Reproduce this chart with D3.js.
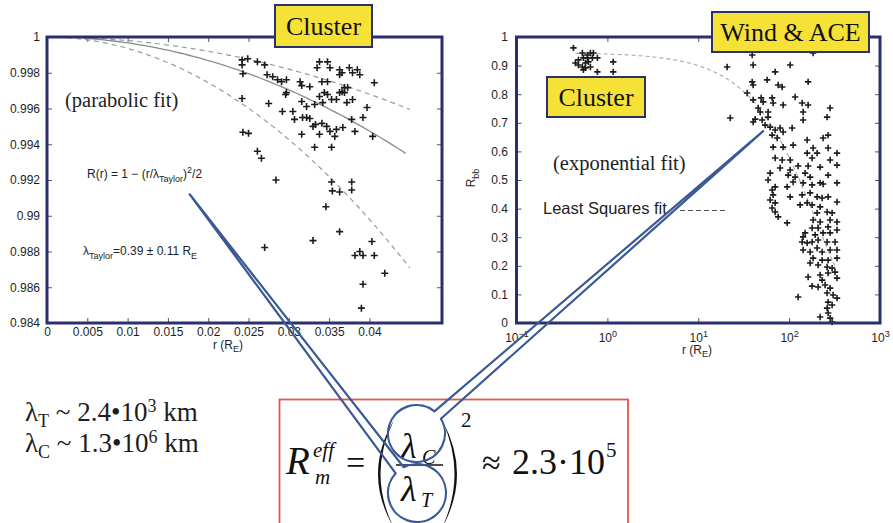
<!DOCTYPE html>
<html>
<head>
<meta charset="utf-8">
<script src="https://cdn.jsdelivr.net/npm/d3@7"></script>
<style>
  html, body { margin: 0; padding: 0; background: #fff; }
  svg { display: block; }
</style>
</head>
<body>
<svg id="fig" width="893" height="523"></svg>
<script>
// ---------- Left panel: Cluster correlation vs separation (parabolic fit) ----------
const leftXTicks = [0, 0.005, 0.01, 0.015, 0.02, 0.025, 0.03, 0.035, 0.04];
const leftXLabels = ["0", "0.005", "0.01", "0.015", "0.02", "0.025", "0.03", "0.035", "0.04"];
const leftYTicks = [0.984, 0.986, 0.988, 0.99, 0.992, 0.994, 0.996, 0.998, 1];
const leftYLabels = ["0.984", "0.986", "0.988", "0.99", "0.992", "0.994", "0.996", "0.998", "1"];

// [r (R_E), R]
const taylorPoints = [
  [0.0242,0.99872],[0.0242,0.99844],[0.0249,0.99878],[0.0261,0.99861],[0.0270,0.99844],
  [0.0243,0.99794],[0.0273,0.99789],[0.0280,0.99778],[0.0286,0.99761],[0.0291,0.99750],
  [0.0297,0.99761],[0.0314,0.99750],[0.0316,0.99728],[0.0326,0.99722],[0.0338,0.99861],
  [0.0348,0.99861],[0.0351,0.99828],[0.0348,0.99750],[0.0363,0.99817],[0.0363,0.99789],
  [0.0375,0.99828],[0.0385,0.99817],[0.0388,0.99789],[0.0406,0.99744],[0.0335,0.99828],
  [0.0366,0.99800],[0.0379,0.99800],[0.0341,0.99750],[0.0373,0.99717],[0.0363,0.99689],
  [0.0369,0.99689],[0.0344,0.99689],[0.0297,0.99689],
  [0.0242,0.99656],[0.0275,0.99628],[0.0296,0.99678],[0.0305,0.99583],[0.0307,0.99539],
  [0.0316,0.99639],[0.0322,0.99611],[0.0322,0.99550],[0.0330,0.99500],[0.0332,0.99622],
  [0.0338,0.99667],[0.0342,0.99633],[0.0348,0.99678],[0.0353,0.99650],[0.0359,0.99650],
  [0.0366,0.99694],[0.0369,0.99717],[0.0372,0.99633],[0.0379,0.99650],[0.0397,0.99606],
  [0.0333,0.99511],[0.0341,0.99517],[0.0351,0.99472],[0.0359,0.99483],[0.0367,0.99494],
  [0.0378,0.99539],[0.0392,0.99550],[0.0404,0.99444],[0.0382,0.99472],[0.0357,0.99444],
  [0.0316,0.99456],[0.0332,0.99383],[0.0353,0.99383],[0.0243,0.99467],[0.0250,0.99461],
  [0.0261,0.99361],[0.0266,0.99322],[0.0292,0.99583],[0.0317,0.99550],[0.0326,0.99544],
  [0.0347,0.99500],[0.0338,0.99456],
  [0.0284,0.99200],[0.0353,0.99189],[0.0354,0.99139],[0.0363,0.99133],[0.0378,0.99189],
  [0.0378,0.99144],[0.0346,0.99050],[0.0363,0.98911],[0.0270,0.98822],[0.0330,0.98861],
  [0.0388,0.98800],[0.0382,0.98778],[0.0392,0.98778],[0.0403,0.98856],[0.0406,0.98778],
  [0.0419,0.98678],[0.0392,0.98617],[0.0390,0.98483]
];

// Taylor scale fit: R(r) = 1 - (r/lambda)^2/2, lambda = 0.39 +/- 0.11 R_E
const lambdaTaylor = 0.39;
const lambdaTaylorErr = 0.11;

// ---------- Right panel: Cluster + Wind & ACE (exponential fit) ----------
const rightXTicks = [0.1, 1, 10, 100, 1000];
const rightXExponents = ["\u22121", "0", "1", "2", "3"];
const rightYTicks = [0, 0.1, 0.2, 0.3, 0.4, 0.5, 0.6, 0.7, 0.8, 0.9, 1];
const rightYLabels = ["0", "0.1", "0.2", "0.3", "0.4", "0.5", "0.6", "0.7", "0.8", "0.9", "1"];

// [r (R_E), R_bb]
const clusterPoints = [
  [0.423,0.962],[0.445,0.909],[0.480,0.920],[0.531,0.944],[0.545,0.927],[0.573,0.909],
  [0.603,0.937],[0.618,0.913],[0.650,0.895],[0.531,0.895],[0.573,0.892],[0.684,0.927],
  [0.702,0.944],[0.776,0.927],[0.776,0.878],[1.16,0.913],[1.16,0.878],[0.545,0.885],
  [0.480,0.902],[0.603,0.927],[0.650,0.944]
];

const windAcePoints = [
  [20.8,0.895],[22.5,0.717],[39.2,0.937],[40.2,0.902],[102.6,0.902],[183.6,0.944],
  [39.2,0.843],[40.2,0.832],[57.3,0.850],[75.7,0.832],[70.2,0.878],[83.8,0.825],
  [161.8,0.843],[34.5,0.804],[49.2,0.787],[51.8,0.773],[65.0,0.787],[66.7,0.769],
  [85.9,0.762],[116.4,0.790],[139,0.769],[161.8,0.762],[282.5,0.752],[45.6,0.752],
  [48.0,0.738],[58.7,0.738],[42.3,0.713],[40.2,0.703],[50.5,0.710],[58.7,0.720],
  [142.6,0.738],[142.6,0.710],[261.8,0.720],[54.5,0.692],[61.8,0.685],[70.2,0.675],
  [79.6,0.682],[85.9,0.668],[65.0,0.657],[73.8,0.647],[107.9,0.682],[157.8,0.640],
  [236.6,0.647],[268.5,0.657],[66.7,0.615],[85.9,0.615],[110.7,0.622],[183.6,0.612],
  [157.8,0.594],[203.2,0.594],[268.5,0.612],[336.5,0.594],[70.2,0.577],[83.8,0.570],
  [102.6,0.570],[179,0.577],[282.5,0.570],[125.6,0.549],[161.8,0.549],[219.3,0.545],
  [336.5,0.552],[79.6,0.542],[61.8,0.524],[97.5,0.517],[116.4,0.510],[150,0.524],
  [170.2,0.510],[268.5,0.517],[336.5,0.490],[110.7,0.493],[142.6,0.490],[179,0.483],
  [236.6,0.486],[70.2,0.476],[95.1,0.476],[58.7,0.500],[65.0,0.465],[66.7,0.448],
  [61.8,0.430],[102.6,0.441],[219.3,0.490],[139,0.448],[170.2,0.455],[203.2,0.441],
  [230.7,0.437],[268.5,0.441],[336.5,0.423],[132.1,0.413],[157.8,0.420],[179,0.413],
  [219.3,0.406],[65.0,0.402],[70.2,0.388],[75.7,0.371],[95.1,0.350],[203.2,0.385],
  [261.8,0.388],[297.2,0.385],[282.5,0.360],[336.5,0.353],[183.6,0.360],[219.3,0.353],
  [179,0.332],[208.4,0.332],[268.5,0.336],[336.5,0.325],[150,0.315],[142.6,0.301],
  [193.2,0.308],[236.6,0.315],[282.5,0.315],[139,0.283],[157.8,0.280],[179,0.283],
  [208.4,0.290],[261.8,0.283],[320,0.283],[142.6,0.255],[170.2,0.248],[203.2,0.262],
  [230.7,0.248],[282.5,0.255],[336.5,0.255],[183.6,0.227],[230.7,0.220],[268.5,0.220],
  [336.5,0.227],[170.2,0.210],[208.4,0.203],[261.8,0.196],[297.2,0.192],[161.8,0.161],
  [219.3,0.168],[268.5,0.175],[320,0.178],[230.7,0.150],[336.5,0.157],[179,0.129],
  [208.4,0.126],[248.9,0.133],[282.5,0.122],[261.8,0.105],[304.8,0.098],[336.5,0.087],
  [125.6,0.091],[268.5,0.073],[297.2,0.063],[261.8,0.052],[268.5,0.035],[219.3,0.021],
  [282.5,0.017],[297.2,0.003],[40.2,0.780],[70.2,0.420],[102.6,0.535]
];

// Exponential fit: R = A exp(-r / lambda_C), lambda_C = 1.3e6 km
const earthRadiusKm = 6371;
const lambdaCorrKm = 1.3e6;
const expAmplitude = 0.945;

// ---------- Colours ----------
const NAVY = "#2a2f72";
const BLUE = "#3a5995";
const YELLOW = "#f6e236";
const RED = "#e2594b";
const INK = "#1e1e1e";
const SANS = "'Liberation Sans', Arial, sans-serif";
const SERIF = "'Liberation Serif', 'Times New Roman', serif";

const svg = d3.select("#fig");

// ---------- Scales ----------
const xL = d3.scaleLinear().domain([0, 0.049]).range([47, 442]);
const yL = d3.scaleLinear().domain([0.984, 1]).range([323, 37]);
const xR = d3.scaleLog().domain([0.1, 1000]).range([516.5, 880]);
const yR = d3.scaleLinear().domain([0, 1]).range([323, 37]);

// Matlab-style box axes: inward ticks on all four sides, labels bottom/left
function boxAxes(g, x, y, xTicks, xFmt, xPad, yTicks, yFmt, yPad) {
  const [xa, xb] = x.range();
  const [yb, ya] = y.range();
  g.append("g").attr("transform", `translate(0,${yb})`)
    .call(d3.axisBottom(x).tickValues(xTicks).tickSize(-5).tickPadding(xPad).tickFormat(xFmt))
    .attr("class", "ax-bottom");
  g.append("g").attr("transform", `translate(0,${ya})`)
    .call(d3.axisTop(x).tickValues(xTicks).tickSize(-5).tickFormat(""));
  g.append("g").attr("transform", `translate(${xa},0)`)
    .call(d3.axisLeft(y).tickValues(yTicks).tickSize(-5).tickPadding(yPad).tickFormat(yFmt));
  g.append("g").attr("transform", `translate(${xb},0)`)
    .call(d3.axisRight(y).tickValues(yTicks).tickSize(-5).tickFormat(""));
  g.selectAll(".domain").remove();
  g.selectAll(".tick line").attr("stroke", "#555").attr("stroke-width", 1);
  g.selectAll("text").attr("font-family", SANS).attr("font-size", 12).attr("fill", INK);
  g.selectAll("g").attr("font-family", null).attr("font-size", null);
}

function plusMarks(g, pts, x, y, size) {
  g.selectAll("path.pt").data(pts).join("path")
    .attr("class", "pt")
    .attr("transform", d => `translate(${x(d[0])},${y(d[1])})`)
    .attr("d", `M${-size},0H${size}M0,${-size}V${size}`)
    .attr("stroke", "#1c1c1c").attr("stroke-width", 1.6).attr("fill", "none");
}

// text with mixed sub/superscripts: parts = [[text, kind]] kind: "n", "sub", "sup"
function richText(g, x, y, parts, opts) {
  const t = g.append("text").attr("x", x).attr("y", y)
    .attr("font-family", opts.family).attr("font-size", opts.size)
    .attr("fill", opts.fill || INK);
  if (opts.anchor) t.attr("text-anchor", opts.anchor);
  if (opts.style) t.attr("font-style", opts.style);
  if (opts.transform) t.attr("transform", opts.transform);
  let shift = 0;
  parts.forEach(([s, kind]) => {
    let target = 0;
    if (kind === "sub") target = opts.subDy || opts.size * 0.35;
    if (kind === "sup") target = -(opts.supDy || opts.size * 0.45);
    const sp = t.append("tspan").attr("dy", target - shift).text(s);
    if (kind !== "n") sp.attr("font-size", opts.scriptSize || opts.size * 0.72);
    shift = target;
  });
  return t;
}

function labelBox(g, x0, y0, w, h, label, baseline) {
  g.append("rect").attr("x", x0).attr("y", y0).attr("width", w).attr("height", h)
    .attr("fill", YELLOW).attr("stroke", NAVY).attr("stroke-width", 2);
  g.append("text").attr("x", x0 + w / 2).attr("y", baseline).attr("text-anchor", "middle")
    .attr("font-family", SERIF).attr("font-size", 26).attr("fill", "#111").text(label);
}

// ================= Left panel =================
const gL = svg.append("g");
boxAxes(gL, xL, yL, leftXTicks, (d, i) => leftXLabels[i], 4, leftYTicks, (d, i) => leftYLabels[i], 7);

const parab = lam => r => 1 - Math.pow(r / lam, 2) / 2;
const lineL = f => d3.line().x(r => xL(r)).y(r => yL(f(r)));
const fitDomainSolid = d3.range(0.0045, 0.04471, 0.0005);
const fitDomainUpper = d3.range(0.0045, 0.04501, 0.0005);
const fitDomainLower = d3.range(0.0025, 0.04501, 0.0005);

gL.append("path").datum(fitDomainUpper)
  .attr("d", lineL(parab(lambdaTaylor + lambdaTaylorErr)))
  .attr("fill", "none").attr("stroke", "#9a9a9a").attr("stroke-width", 1.2).attr("stroke-dasharray", "5,4");
gL.append("path").datum(fitDomainLower)
  .attr("d", lineL(parab(lambdaTaylor - lambdaTaylorErr)))
  .attr("fill", "none").attr("stroke", "#9a9a9a").attr("stroke-width", 1.2).attr("stroke-dasharray", "5,4");
gL.append("path").datum(fitDomainSolid)
  .attr("d", lineL(parab(lambdaTaylor)))
  .attr("fill", "none").attr("stroke", "#8c8c8c").attr("stroke-width", 1.3);

plusMarks(gL.append("g"), taylorPoints, xL, yL, 3.5);

gL.append("text").attr("x", 65).attr("y", 107).attr("font-family", SERIF).attr("font-size", 20.5)
  .attr("fill", INK).text("(parabolic fit)");

richText(gL, 87, 178, [["R(r) = 1 \u2212 (r/\u03bb", "n"], ["Taylor", "sub"], [")", "n"], ["2", "sup"], ["/2", "n"]],
  { family: SANS, size: 12, scriptSize: 9, subDy: 4, supDy: 5 });
richText(gL, 83, 255, [["\u03bb", "n"], ["Taylor", "sub"], ["=0.39 \u00b1 0.11 R", "n"], ["E", "sub"]],
  { family: SANS, size: 12, scriptSize: 9, subDy: 4 });
richText(gL, 228, 349, [["r (R", "n"], ["E", "sub"], [")", "n"]],
  { family: SANS, size: 12, scriptSize: 9, subDy: 3, anchor: "middle" });

gL.append("rect").attr("x", 47).attr("y", 37).attr("width", 442 - 47).attr("height", 323 - 37)
  .attr("fill", "none").attr("stroke", NAVY).attr("stroke-width", 3);
labelBox(gL, 275, 5, 97, 42, "Cluster", 35);

// ================= Right panel =================
const gR = svg.append("g");
boxAxes(gR, xR, yR, rightXTicks, () => "", 10, rightYTicks, (d, i) => rightYLabels[i], 8.5);
gR.select(".ax-bottom").selectAll(".tick text").each(function (d, i) {
  const t = d3.select(this);
  t.append("tspan").text("10");
  t.append("tspan").attr("dy", "-0.5em").attr("font-size", 9).text(rightXExponents[i]);
});

const expFit = r => expAmplitude * Math.exp(-r * earthRadiusKm / lambdaCorrKm);
const expDomain = d3.range(-0.35, 2.52, 0.02).map(e => Math.pow(10, e));
gR.append("path").datum(expDomain)
  .attr("d", d3.line().x(r => xR(r)).y(r => yR(expFit(r))))
  .attr("fill", "none").attr("stroke", "#a8a8a8").attr("stroke-width", 1.1).attr("stroke-dasharray", "4,3");

plusMarks(gR.append("g"), clusterPoints, xR, yR, 3.2);
plusMarks(gR.append("g"), windAcePoints, xR, yR, 3.2);

gR.append("text").attr("x", 553).attr("y", 170).attr("font-family", SERIF).attr("font-size", 20.5)
  .attr("fill", INK).text("(exponential fit)");
gR.append("text").attr("x", 543).attr("y", 214).attr("font-family", SANS).attr("font-size", 16.5)
  .attr("fill", INK).text("Least Squares fit");
gR.append("line").attr("x1", 680).attr("x2", 727).attr("y1", 210.5).attr("y2", 210.5)
  .attr("stroke", "#555").attr("stroke-width", 1).attr("stroke-dasharray", "5,3");

richText(gR, 697, 354, [["r (R", "n"], ["E", "sub"], [")", "n"]],
  { family: SANS, size: 12, scriptSize: 9, subDy: 3, anchor: "middle" });
richText(gR, 0, 0, [["R", "n"], ["bb", "sub"]],
  { family: SANS, size: 12, scriptSize: 9, subDy: 4, anchor: "middle", transform: "translate(475,178) rotate(-90)" });

gR.append("rect").attr("x", 516.5).attr("y", 37).attr("width", 880 - 516.5).attr("height", 323 - 37)
  .attr("fill", "none").attr("stroke", NAVY).attr("stroke-width", 3);
labelBox(gR, 547, 77, 98, 40, "Cluster", 106);
labelBox(gR, 712, 12, 157, 40, "Wind & ACE", 41);

// ================= Correlation lengths =================
const gB = svg.append("g");
richText(gB, 25, 421, [["\u03bb", "n"], ["T", "sub"], [" ~ 2.4\u202210", "n"], ["3", "sup"], [" km", "n"]],
  { family: SERIF, size: 27, scriptSize: 18, subDy: 6, supDy: 9 });
richText(gB, 25, 452, [["\u03bb", "n"], ["C", "sub"], [" ~ 1.3\u202210", "n"], ["6", "sup"], [" km", "n"]],
  { family: SERIF, size: 27, scriptSize: 18, subDy: 6, supDy: 9 });

// ================= Effective magnetic Reynolds number =================
const gE = svg.append("g");
gE.append("rect").attr("x", 279.5).attr("y", 399.5).attr("width", 348.5).attr("height", 140)
  .attr("fill", "none").attr("stroke", RED).attr("stroke-width", 1.8);

const eqText = (x, y, s, size, italic) => gE.append("text").attr("x", x).attr("y", y)
  .attr("font-family", SERIF).attr("font-size", size)
  .attr("font-style", italic ? "italic" : "normal").attr("fill", "#111").text(s);

eqText(286, 474, "R", 39, true);
eqText(313, 457, "eff", 21, true);
eqText(315, 484, "m", 21, true);
eqText(346, 474, "=", 34, false);
eqText(401, 458, "\u03bb", 36, true);
eqText(422, 464, "C", 20, true);
eqText(401, 501, "\u03bb", 36, true);
eqText(421, 507, "T", 20, true);
gE.append("line").attr("x1", 396).attr("x2", 443).attr("y1", 465).attr("y2", 465)
  .attr("stroke", "#111").attr("stroke-width", 1.5);
// large parentheses
gE.append("path").attr("d", "M394,420 Q362,474 394,528 Q367,474 394,420 Z").attr("fill", "#111");
gE.append("path").attr("d", "M442,420 Q472,474 442,528 Q467,474 442,420 Z").attr("fill", "#111");
eqText(461, 427, "2", 21, false);
eqText(482, 474, "\u2248", 34, false);
eqText(512, 474, "2.3\u00b710", 36, false);
eqText(606, 457, "5", 21, false);

// ================= Oval callouts linking the scales to the plots =================
function callout(cx, cy, r, tx, ty, halfDeg) {
  const th = Math.atan2(ty - cy, tx - cx);
  const d = halfDeg * Math.PI / 180;
  const ax = cx + r * Math.cos(th - d), ay = cy + r * Math.sin(th - d);
  const bx = cx + r * Math.cos(th + d), by = cy + r * Math.sin(th + d);
  return `M${ax},${ay}L${tx},${ty}L${bx},${by}A${r},${r} 0 1 1 ${ax},${ay}Z`;
}
const gC = svg.append("g");
// lambda_C callout points into the Wind & ACE cloud
gC.append("path").attr("d", callout(416.5, 433.5, 28.5, xR(51.8), yR(0.671), 10))
  .attr("fill", "none").attr("stroke", BLUE).attr("stroke-width", 2.2).attr("stroke-linejoin", "round");
// lambda_T callout points into the Cluster parabolic-fit panel
gC.append("path").attr("d", callout(417, 493, 29, xL(0.0177), yL(0.9912), 10))
  .attr("fill", "none").attr("stroke", BLUE).attr("stroke-width", 2.2).attr("stroke-linejoin", "round");
</script>
</body>
</html>
